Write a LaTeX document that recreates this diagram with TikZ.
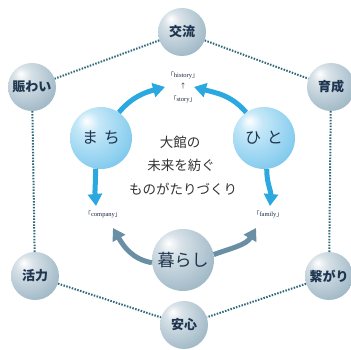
\documentclass[tikz,border=0pt]{standalone}
\usepackage{fontspec}
\newfontfamily\jp{Noto Sans CJK JP}
\newfontfamily\lserif{Liberation Serif}
\usetikzlibrary{arrows.meta}
\definecolor{ob1}{HTML}{D8E2E8}
\definecolor{ob2}{HTML}{A9BFCC}
\definecolor{ob3}{HTML}{6F8FA3}
\definecolor{ib1}{HTML}{C6E8F8}
\definecolor{ib2}{HTML}{8CCFEF}
\definecolor{ib3}{HTML}{3AA6DC}
\definecolor{navy}{HTML}{1E3550}
\definecolor{arrblue}{HTML}{2AA8DF}
\definecolor{arrgray}{HTML}{6A8FA4}
\definecolor{dotc}{HTML}{2F6878}
\pgfdeclareradialshading{outerball}{\pgfpoint{-12bp}{14bp}}{color(0bp)=(white); color(9bp)=(ob1); color(30bp)=(ob2); color(56bp)=(ob3); color(70bp)=(ob3)}
\pgfdeclareradialshading{innerball}{\pgfpoint{-12bp}{14bp}}{color(0bp)=(white); color(9bp)=(ib1); color(30bp)=(ib2); color(56bp)=(ib3); color(70bp)=(ib3)}
\newcommand{\lbl}[1]{{\jp 「}{\lserif #1}{\jp 」}}
\tikzset{
  outer/.style={circle, minimum size=48pt, inner sep=0pt, shading=outerball, text=navy, font=\jp\bfseries\fontsize{13}{13}\selectfont},
  inner/.style={circle, minimum size=62pt, inner sep=0pt, shading=innerball, text=navy, font=\jp\fontsize{16}{16}\selectfont},
  kurashi/.style={circle, minimum size=62pt, inner sep=0pt, shading=outerball, text=navy, font=\jp\fontsize{17}{17}\selectfont},
  dotline/.style={dotc, line width=2pt, dash pattern=on 1.5pt off 1.4pt},
  bluearr/.style={arrblue, line width=5pt, -{Triangle[width=14pt,length=12pt]}},
  grayarr/.style={arrgray, line width=5pt, -{Triangle[width=14pt,length=12pt]}},
  small/.style={text=navy!80!black, font=\fontsize{6.5}{7}\selectfont, inner sep=0pt},
  center/.style={text=black!80, font=\jp\fontsize{13.5}{13.5}\selectfont, inner sep=0pt}
}
\begin{document}
\begin{tikzpicture}[x=1pt,y=-1pt]
\useasboundingbox[fill=white] (0,0) rectangle (351,350);
% outer nodes
\node[outer] (koryu) at (182,32) {交流};
\node[outer] (nigiwai) at (32,87) {賑わい};
\node[outer] (ikusei) at (331,87) {育成};
\node[outer] (katsuryoku) at (35,276) {活力};
\node[outer] (tsunagari) at (329,276) {繋がり};
\node[outer] (anshin) at (184,325) {安心};
% dotted connectors
\draw[dotline] (koryu) -- (nigiwai);
\draw[dotline] (koryu) -- (ikusei);
\draw[dotline] (nigiwai) -- (katsuryoku);
\draw[dotline] (ikusei) -- (tsunagari);
\draw[dotline] (katsuryoku) -- (anshin);
\draw[dotline] (tsunagari) -- (anshin);
% inner nodes
\node[inner] (machi) at (101,138) {ま\hspace{0.35em}ち};
\node[inner] (hito) at (264,138) {ひ\hspace{0.35em}と};
\node[kurashi] (kurashi) at (183,260) {暮らし};
% labels
\node[small] (history) at (183,75) {\lbl{history}};
\node[small] (up) at (183,86) {\jp ↑};
\node[small] (story) at (183,99) {\lbl{story}};
\node[small] (company) at (103,214) {\lbl{company}};
\node[small] (family) at (268,214) {\lbl{family}};
\node[center] (t1) at (180,142) {大館の};
\node[center] (t2) at (181,165) {未来を紡ぐ};
\node[center] (t3) at (183,189) {ものがたりづくり};
% arrow end points
\coordinate (hl) at (165,87);
\coordinate (hr) at (194,87);
\coordinate (cl) at (96,206);
\coordinate (fr) at (270,206);
\coordinate (kl) at (113,228);
\coordinate (kr) at (256,228);
% arrows
\draw[bluearr] (machi.55) to[out=50,in=195] (hl);
\draw[bluearr] (hito.125) to[out=130,in=-15] (hr);
\draw[bluearr] (machi.-100) to[out=-90,in=95] (cl);
\draw[bluearr] (hito.-85) to[out=-90,in=85] (fr);
\draw[grayarr] (kurashi.185) to[out=170,in=-60] (kl);
\draw[grayarr] (kurashi.10) to[out=20,in=-120] (kr);
\end{tikzpicture}
\end{document}
